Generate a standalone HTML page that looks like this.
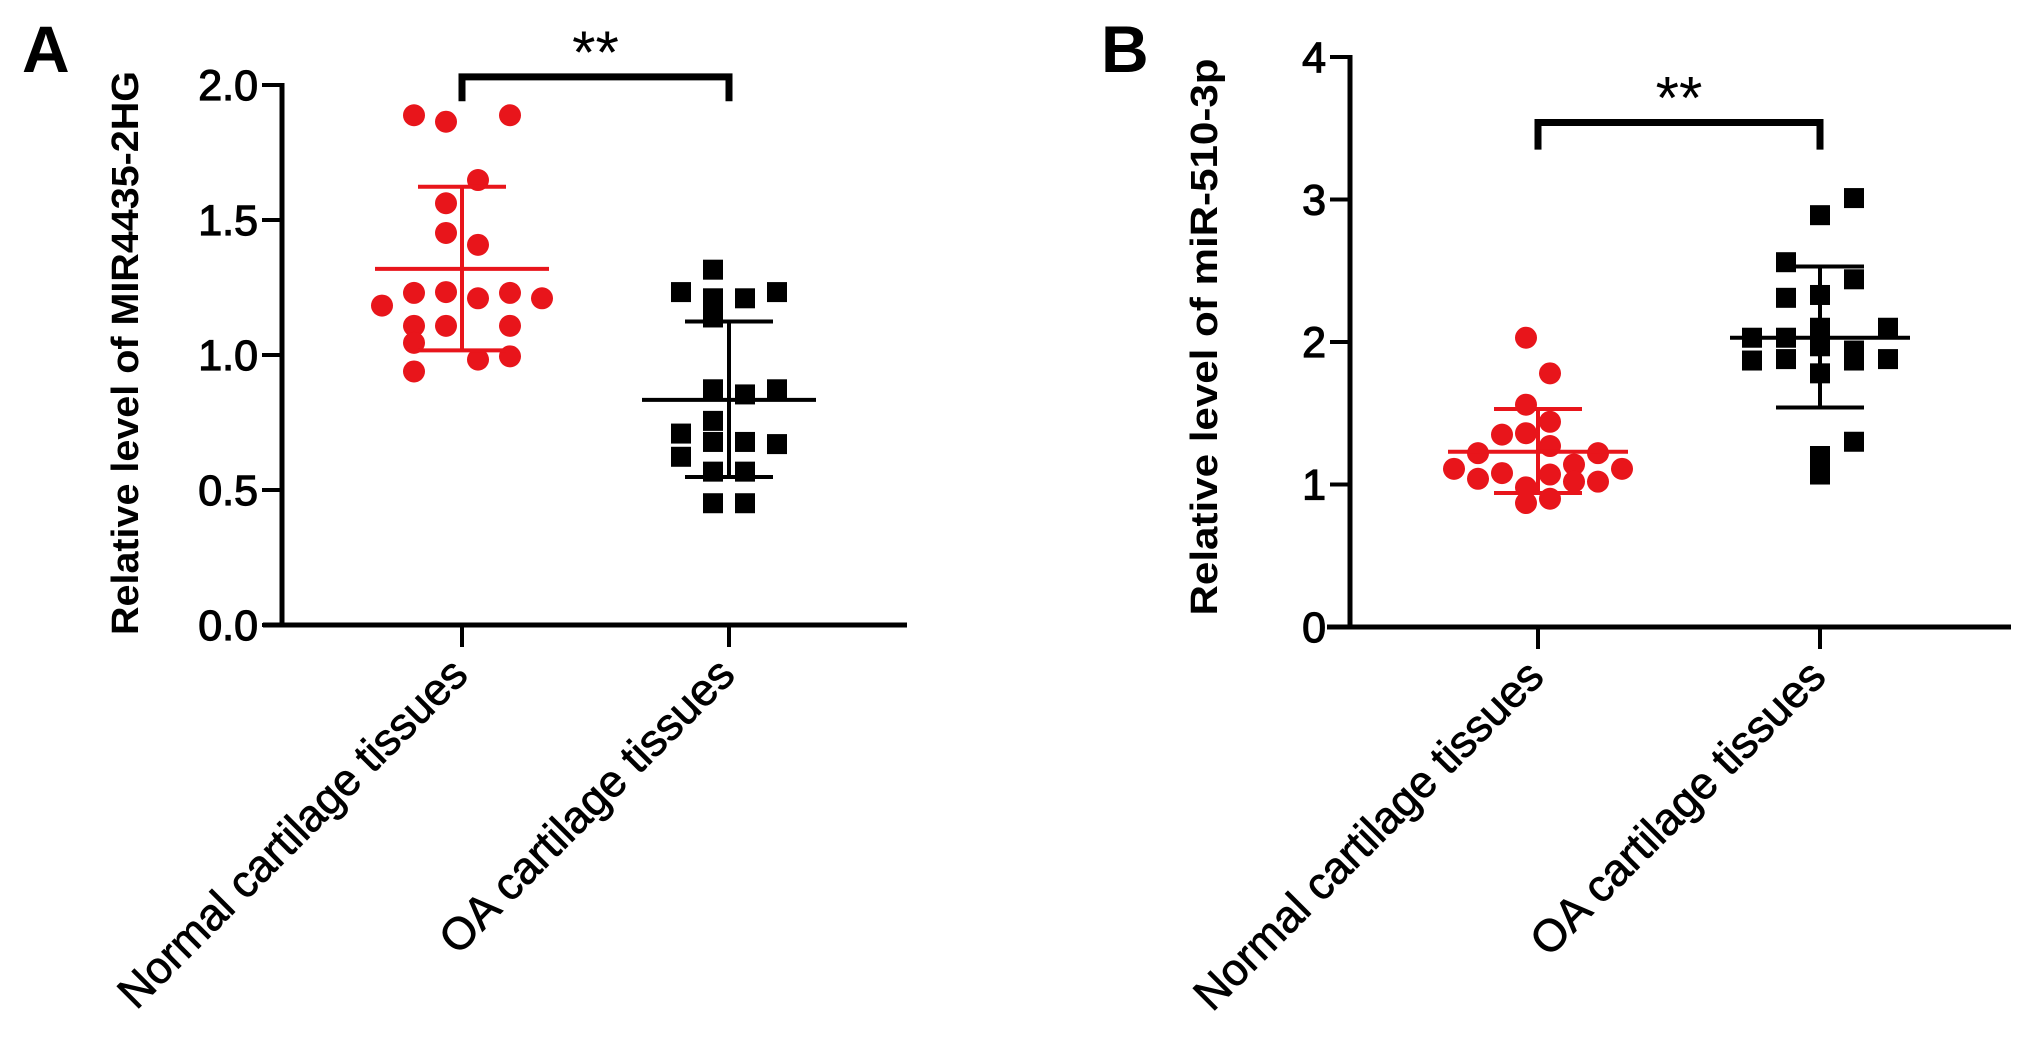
<!DOCTYPE html>
<html><head><meta charset="utf-8"><style>
html,body{margin:0;padding:0;background:#fff;}
svg{display:block;}
text{font-family:"Liberation Sans",Arial,sans-serif;}
</style></head><body>
<svg id="fig" width="2031" height="1057" viewBox="0 0 2031 1057" xmlns="http://www.w3.org/2000/svg">
<g id="pa"></g>
<g id="pb"></g>
</svg>
<script>
// ---------- Panel A data ----------
const catsA = ["Normal cartilage tissues", "OA cartilage tissues"];
const ticksA = [0.0, 0.5, 1.0, 1.5, 2.0];
const tickLabelsA = ["0.0", "0.5", "1.0", "1.5", "2.0"];
const redA = [1.888,1.888,1.864,1.648,1.562,1.452,1.408,1.23,1.233,1.23,1.21,1.21,1.183,1.108,1.108,1.108,1.045,0.983,0.995,0.939];
const redColA = [-1.5,1.5,-0.5,0.5,-0.5,-0.5,0.5,-1.5,-0.5,1.5,0.5,2.5,-2.5,-1.5,-0.5,1.5,-1.5,0.5,1.5,-1.5];
const blackA = [1.316,1.233,1.21,1.21,1.233,1.139,0.873,0.854,0.873,0.756,0.709,0.678,0.678,0.67,0.623,0.568,0.568,0.451,0.451];
const blackColA = [-0.5,-1.5,-0.5,0.5,1.5,-0.5,-0.5,0.5,1.5,-0.5,-1.5,-0.5,0.5,1.5,-1.5,-0.5,0.5,-0.5,0.5];
const meanA = [1.319, 0.834];
const sdLowA = [1.017, 0.548];
const sdHighA = [1.623, 1.124];
const bracketA = [2.03, 1.94];
// ---------- Panel B data ----------
const catsB = ["Normal cartilage tissues", "OA cartilage tissues"];
const ticksB = [0, 1, 2, 3, 4];
const tickLabelsB = ["0", "1", "2", "3", "4"];
const redB = [2.03,1.78,1.56,1.44,1.35,1.36,1.27,1.22,1.22,1.11,1.08,1.07,1.14,1.11,1.04,1.02,1.02,0.98,0.90,0.87];
const redColB = [-0.5,0.5,-0.5,0.5,-1.5,-0.5,0.5,-2.5,2.5,-3.5,-1.5,0.5,1.5,3.5,-2.5,1.5,2.5,-0.5,0.5,-0.5];
const blackB = [3.01,2.89,2.56,2.44,2.31,2.33,2.10,2.10,2.03,2.03,1.97,1.94,1.87,1.88,1.87,1.88,1.78,1.30,1.20,1.07];
const blackColB = [1,0,-1,1,-1,0,0,2,-2,-1,0,1,-2,-1,1,2,0,1,0,0];
const meanB = [1.23, 2.03];
const sdLowB = [0.94, 1.54];
const sdHighB = [1.53, 2.53];
const bracketB = [3.54, 3.35];

const NS = "http://www.w3.org/2000/svg";
function mk(parent, tag, attrs){const e=document.createElementNS(NS,tag);for(const k in attrs)e.setAttribute(k,attrs[k]);parent.appendChild(e);return e;}

function panel(g, cfg){
  const y = v => cfg.y0 - (v - cfg.vmin) / (cfg.vmax - cfg.vmin) * (cfg.y0 - cfg.y1);
  const cx = cfg.cx;
  let t = mk(g,'text',{x:cfg.letterX,y:cfg.letterY,'font-size':66,'font-weight':'bold',fill:'#000'});
  t.textContent = cfg.letter;
  
  
  t = mk(g,'text',{x:0,y:0,'font-size':38,'font-weight':'bold','text-anchor':'middle',fill:'#000',
    transform:`translate(${cfg.titleX},${cfg.titleY}) rotate(-90)`,textLength:cfg.titleLen,lengthAdjust:'spacingAndGlyphs'});
  t.textContent = cfg.title;
  
  
  let a = mk(g,'line',{x1:cfg.axisX,y1:y(cfg.vmax)-2,x2:cfg.axisX,y2:cfg.y0+2,stroke:'#000','stroke-width':5});
  
  
  a = mk(g,'line',{x1:cfg.xStart,y1:cfg.y0,x2:cfg.xEnd,y2:cfg.y0,stroke:'#000','stroke-width':5});
  
  
  cfg.ticks.forEach((v,i)=>{
    const tk = mk(g,'line',{x1:cfg.axisX-20,y1:y(v),x2:cfg.axisX,y2:y(v),stroke:'#000','stroke-width':4});
    
    
    const lb = mk(g,'text',{x:cfg.axisX-24,y:y(v)+15,'font-size':43,'text-anchor':'end',fill:'#000',stroke:'#000','stroke-width':1.2});
    lb.textContent = cfg.tickLabels[i];
    
    
  });
  cfg.cats.forEach((c,i)=>{
    const tk = mk(g,'line',{x1:cx[i],y1:cfg.y0,x2:cx[i],y2:cfg.y0+22,stroke:'#000','stroke-width':4});
    
    
    const lb = mk(g,'text',{x:0,y:0,'font-size':45,'text-anchor':'end',fill:'#000',stroke:'#000','stroke-width':0.8,
      transform:`translate(${cx[i]+8},${cfg.y0+52}) rotate(-45)`,textLength:cfg.labLen[i],lengthAdjust:'spacingAndGlyphs'});
    lb.textContent = c;
    
    
  });
  cfg.red.forEach((v,i)=>{
    const p = mk(g,'circle',{cx:cx[0]+cfg.redCol[i]*cfg.redSp,cy:y(v),r:11,fill:'#e8151b'});
    
    
  });
  cfg.black.forEach((v,i)=>{
    const p = mk(g,'rect',{x:cx[1]+cfg.blackCol[i]*cfg.blackSp-10,y:y(v)-10,width:20,height:20,fill:'#000'});
    
    
  });
  const cols=['#e8151b','#000'];
  [0,1].forEach(i=>{
    const eg = mk(g,'g',{stroke:cols[i],'stroke-width':4});
    
    
    mk(eg,'line',{x1:cx[i]-cfg.meanW,y1:y(cfg.mean[i]),x2:cx[i]+cfg.meanW,y2:y(cfg.mean[i])});
    mk(eg,'line',{x1:cx[i],y1:y(cfg.sdHigh[i]),x2:cx[i],y2:y(cfg.sdLow[i])});
    mk(eg,'line',{x1:cx[i]-44,y1:y(cfg.sdHigh[i]),x2:cx[i]+44,y2:y(cfg.sdHigh[i])});
    mk(eg,'line',{x1:cx[i]-44,y1:y(cfg.sdLow[i]),x2:cx[i]+44,y2:y(cfg.sdLow[i])});
  });
  const b = mk(g,'path',{d:`M${cx[0]},${y(cfg.bracket[1])} V${y(cfg.bracket[0])} H${cx[1]} V${y(cfg.bracket[1])}`,fill:'none',stroke:'#000','stroke-width':7});
  
  
  const s = mk(g,'text',{x:(cx[0]+cx[1])/2,y:y(cfg.bracket[0])-4,'font-size':60,'text-anchor':'middle',fill:'#000'});
  s.textContent='**';
  
  
}

panel(document.getElementById('pa'),{
  letter:'A',letterX:22,letterY:72,title:'Relative level of MIR4435-2HG',titleX:138,titleY:353,titleLen:564,
  vmin:0,vmax:2,y0:625,y1:85,axisX:282,xStart:263,xEnd:907,cx:[462,729],labLen:[472,395],
  ticks:ticksA,tickLabels:tickLabelsA,cats:catsA,red:redA,redCol:redColA,redSp:32,black:blackA,blackCol:blackColA,blackSp:32,
  mean:meanA,sdLow:sdLowA,sdHigh:sdHighA,meanW:87,bracket:bracketA
});
panel(document.getElementById('pb'),{
  letter:'B',letterX:1101,letterY:72,title:'Relative level of miR-510-3p',titleX:1217,titleY:337,titleLen:557,
  vmin:0,vmax:4,y0:627,y1:57,axisX:1350,xStart:1327,xEnd:2011,cx:[1538,1820],labLen:[472,395],
  ticks:ticksB,tickLabels:tickLabelsB,cats:catsB,red:redB,redCol:redColB,redSp:24,black:blackB,blackCol:blackColB,blackSp:34,
  mean:meanB,sdLow:sdLowB,sdHigh:sdHighB,meanW:90,bracket:bracketB
});
</script>
</body></html>
